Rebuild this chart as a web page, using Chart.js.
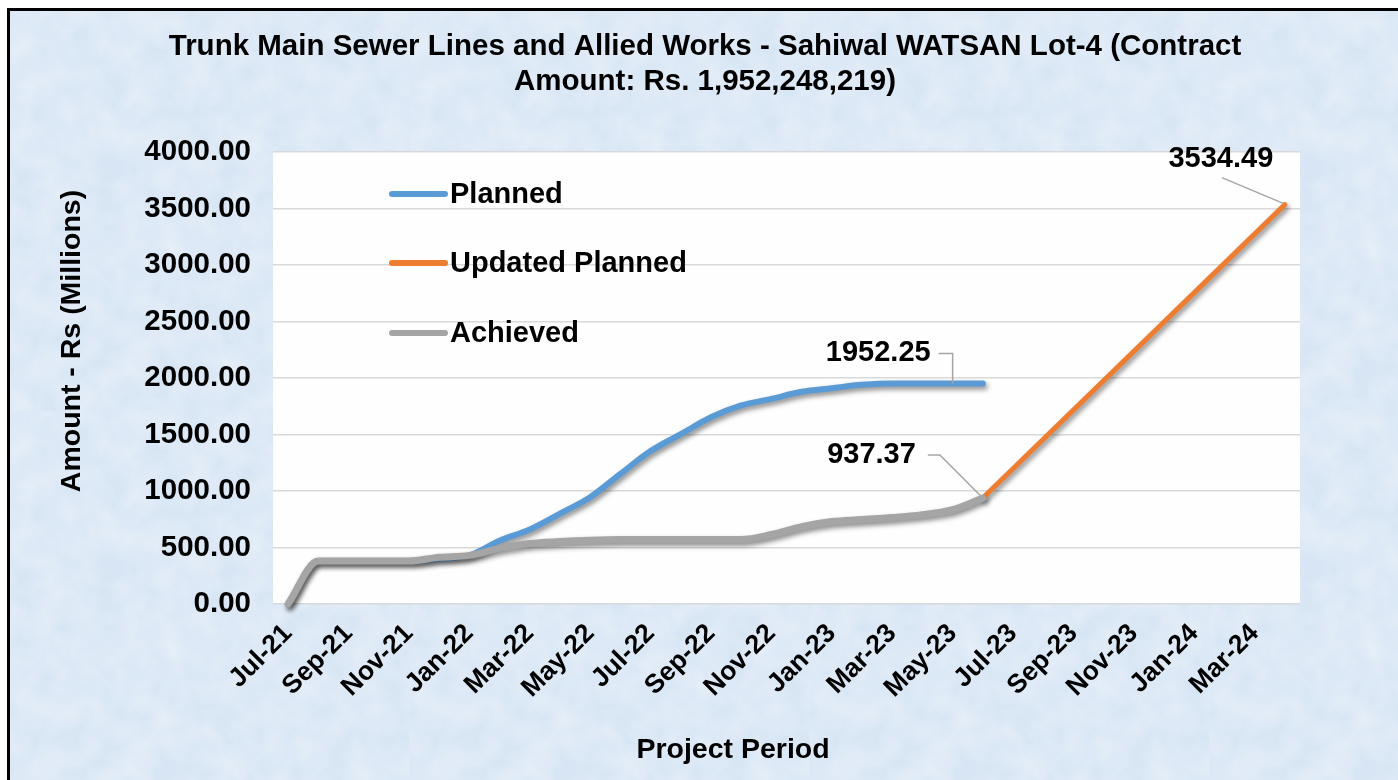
<!DOCTYPE html>
<html><head><meta charset="utf-8">
<script src="https://cdn.jsdelivr.net/npm/chart.js@4.4.1/dist/chart.umd.min.js"></script>
<style>
html,body{margin:0;padding:0;background:#fff;width:1398px;height:780px;overflow:hidden}
#frame{position:absolute;left:7px;top:8px;width:1420px;height:800px;border-left:3px solid #000;border-top:3px solid #000;background-color:#d7e5f4;
background-image:url("data:image/svg+xml;utf8,<svg xmlns='http://www.w3.org/2000/svg' width='400' height='400'><filter id='n'><feTurbulence type='fractalNoise' baseFrequency='0.035' numOctaves='4' seed='3'/><feColorMatrix values='0 0 0 0 1  0 0 0 0 1  0 0 0 0 1  0 0 0 0.55 -0.12'/></filter><rect width='100%' height='100%' filter='url(%23n)'/></svg>");}
#wrap{position:absolute;left:0;top:0;width:1398px;height:780px}
</style></head>
<body><div id="frame"></div><div id="wrap"><canvas id="c" width="1398" height="780"></canvas></div>
<script>
const months = ['Jul-21','Aug-21','Sep-21','Oct-21','Nov-21','Dec-21','Jan-22','Feb-22','Mar-22','Apr-22','May-22','Jun-22',
  'Jul-22','Aug-22','Sep-22','Oct-22','Nov-22','Dec-22','Jan-23','Feb-23','Mar-23','Apr-23','May-23','Jun-23',
  'Jul-23','Aug-23','Sep-23','Oct-23','Nov-23','Dec-23','Jan-24','Feb-24','Mar-24','Apr-24'];
const planned = [0,380,380,380,380,400,430,560,660,800,945,1151,1353,1503,1652,1757,1815,1878,1910,1940,1952.25,1952.25,1952.25,1952.25,
  null,null,null,null,null,null,null,null,null,null];
const updatedPlanned = [null,null,null,null,null,null,null,null,null,null,null,null,null,null,null,null,null,null,null,null,null,null,null,937.37,
  null,null,null,null,null,null,null,null,null,3534.49];
const achieved = [0,380,380,380,380,413,430,492,536,553,565,571,571,571,571,571,615,685,730,747,765,791,835,937.37,
  null,null,null,null,null,null,null,null,null,null];
const yTicks = [0,500,1000,1500,2000,2500,3000,3500,4000];
const titleLines = ['Trunk Main Sewer Lines and Allied Works - Sahiwal WATSAN Lot-4 (Contract','Amount: Rs. 1,952,248,219)'];
const xTitle = 'Project Period';
const yTitle = 'Amount - Rs (Millions)';
const seriesNames = ['Planned','Updated Planned','Achieved'];
const colors = ['#5b9bd5','#ed7d31','#a5a5a5'];

const FONT = "'Liberation Sans', Arial, sans-serif";

const bgPlugin = {
  id:'bg',
  beforeDraw(chart){
    const {ctx, chartArea:a} = chart;
    ctx.save();
    ctx.fillStyle = '#fefefe';
    ctx.fillRect(a.left, a.top, a.right-a.left, a.bottom-a.top);
    ctx.restore();
  }
};
const shadowPlugin = {
  id:'shadow',
  beforeDatasetDraw(chart){
    const ctx = chart.ctx;
    ctx.save();
    ctx.shadowColor = 'rgba(0,0,0,0.45)';
    ctx.shadowBlur = 5;
    ctx.shadowOffsetX = 2;
    ctx.shadowOffsetY = 3;
  },
  afterDatasetDraw(chart){ chart.ctx.restore(); }
};
const textPlugin = {
  id:'texts',
  afterDraw(chart){
    const ctx = chart.ctx;
    ctx.save();
    ctx.fillStyle = '#000';
    ctx.textAlign = 'center';
    ctx.textBaseline = 'middle';
    // title
    ctx.font = "bold 29.5px " + FONT;
    ctx.fillText(titleLines[0], 705, 47);
    ctx.fillText(titleLines[1], 705, 82);
    // x title
    ctx.font = "bold 28.5px " + FONT;
    ctx.fillText(xTitle, 733, 750);
    // y title
    ctx.save();
    ctx.translate(72, 341);
    ctx.rotate(-Math.PI/2);
    ctx.fillText(yTitle, 0, 0);
    ctx.restore();
    // legend
    const ly = [194, 263, 333];
    ctx.font = "bold 29px " + FONT;
    ctx.textAlign = 'left';
    for (let i=0;i<3;i++){
      ctx.strokeStyle = colors[i];
      ctx.lineWidth = 6;
      ctx.lineCap = 'round';
      ctx.beginPath(); ctx.moveTo(392, ly[i]); ctx.lineTo(445, ly[i]); ctx.stroke();
      ctx.fillStyle = '#000';
      ctx.fillText(seriesNames[i], 450, ly[i]+1);
    }
    // data labels with leader lines
    const p1 = chart.getDatasetMeta(0).data[22];
    const p2 = chart.getDatasetMeta(2).data[23];
    const p3 = chart.getDatasetMeta(1).data[33];
    ctx.strokeStyle = '#a6a6a6';
    ctx.lineWidth = 1.5;
    ctx.lineCap = 'butt';
    ctx.beginPath();
    ctx.moveTo(p1.x-14, p1.y-30); ctx.lineTo(p1.x, p1.y-30); ctx.lineTo(p1.x, p1.y);
    ctx.moveTo(p2.x-55, p2.y-43); ctx.lineTo(p2.x-43, p2.y-43); ctx.lineTo(p2.x-2, p2.y-2);
    ctx.moveTo(p3.x-63, p3.y-27); ctx.lineTo(p3.x-1, p3.y-1);
    ctx.stroke();
    ctx.fillStyle = '#000';
    ctx.font = "bold 29px " + FONT;
    ctx.textAlign = 'right';
    ctx.fillText(planned[22].toFixed(2), p1.x-22, p1.y-30);
    ctx.fillText(achieved[23].toFixed(2), p2.x-67, p2.y-43);
    ctx.textAlign = 'center';
    ctx.fillText(updatedPlanned[33].toFixed(2), p3.x-64, p3.y-46);
    ctx.restore();
  }
};

new Chart(document.getElementById('c'), {
  type:'line',
  data:{
    labels: months,
    datasets:[
      {label:seriesNames[0], data:planned, borderColor:colors[0], borderWidth:6, cubicInterpolationMode:'monotone', borderCapStyle:'round', borderJoinStyle:'round', pointRadius:0, clip:false, order:3},
      {label:seriesNames[1], data:updatedPlanned, borderColor:colors[1], borderWidth:5, spanGaps:true, borderCapStyle:'round', pointRadius:0, clip:false, order:2},
      {label:seriesNames[2], data:achieved, borderColor:colors[2], borderWidth:7, cubicInterpolationMode:'monotone', borderCapStyle:'round', borderJoinStyle:'round', pointRadius:0, clip:false, order:1}
    ]
  },
  options:{
    responsive:false,
    animation:false,
    devicePixelRatio:1,
    layout:{padding:{left:0, top:152, right:98, bottom:0}},
    plugins:{legend:{display:false}, title:{display:false}, tooltip:{enabled:false}},
    scales:{
      x:{
        offset:true,
        grid:{display:false},
        border:{display:false},
        afterFit(s){ s.height = 176; },
        ticks:{
          autoSkip:false, minRotation:45, maxRotation:45, padding:6, color:'#000',
          font:{family:FONT, size:26.5, weight:'bold'},
          callback(v,i){ return i%2===0 ? months[i] : ''; }
        }
      },
      y:{
        min:yTicks[0], max:yTicks[yTicks.length-1],
        afterFit(s){ s.width = 273; },
        afterBuildTicks(s){ s.ticks = yTicks.map(v=>({value:v})); },
        grid:{color:'#d9d9d9', lineWidth:1.5, drawTicks:false},
        border:{display:false},
        ticks:{padding:22, color:'#000', font:{family:FONT, size:29.5, weight:'bold'}, callback(v){ return Number(v).toFixed(2); }},
        title:{display:false}
      }
    }
  },
  plugins:[bgPlugin, shadowPlugin, textPlugin]
});
</script>
</body></html>
